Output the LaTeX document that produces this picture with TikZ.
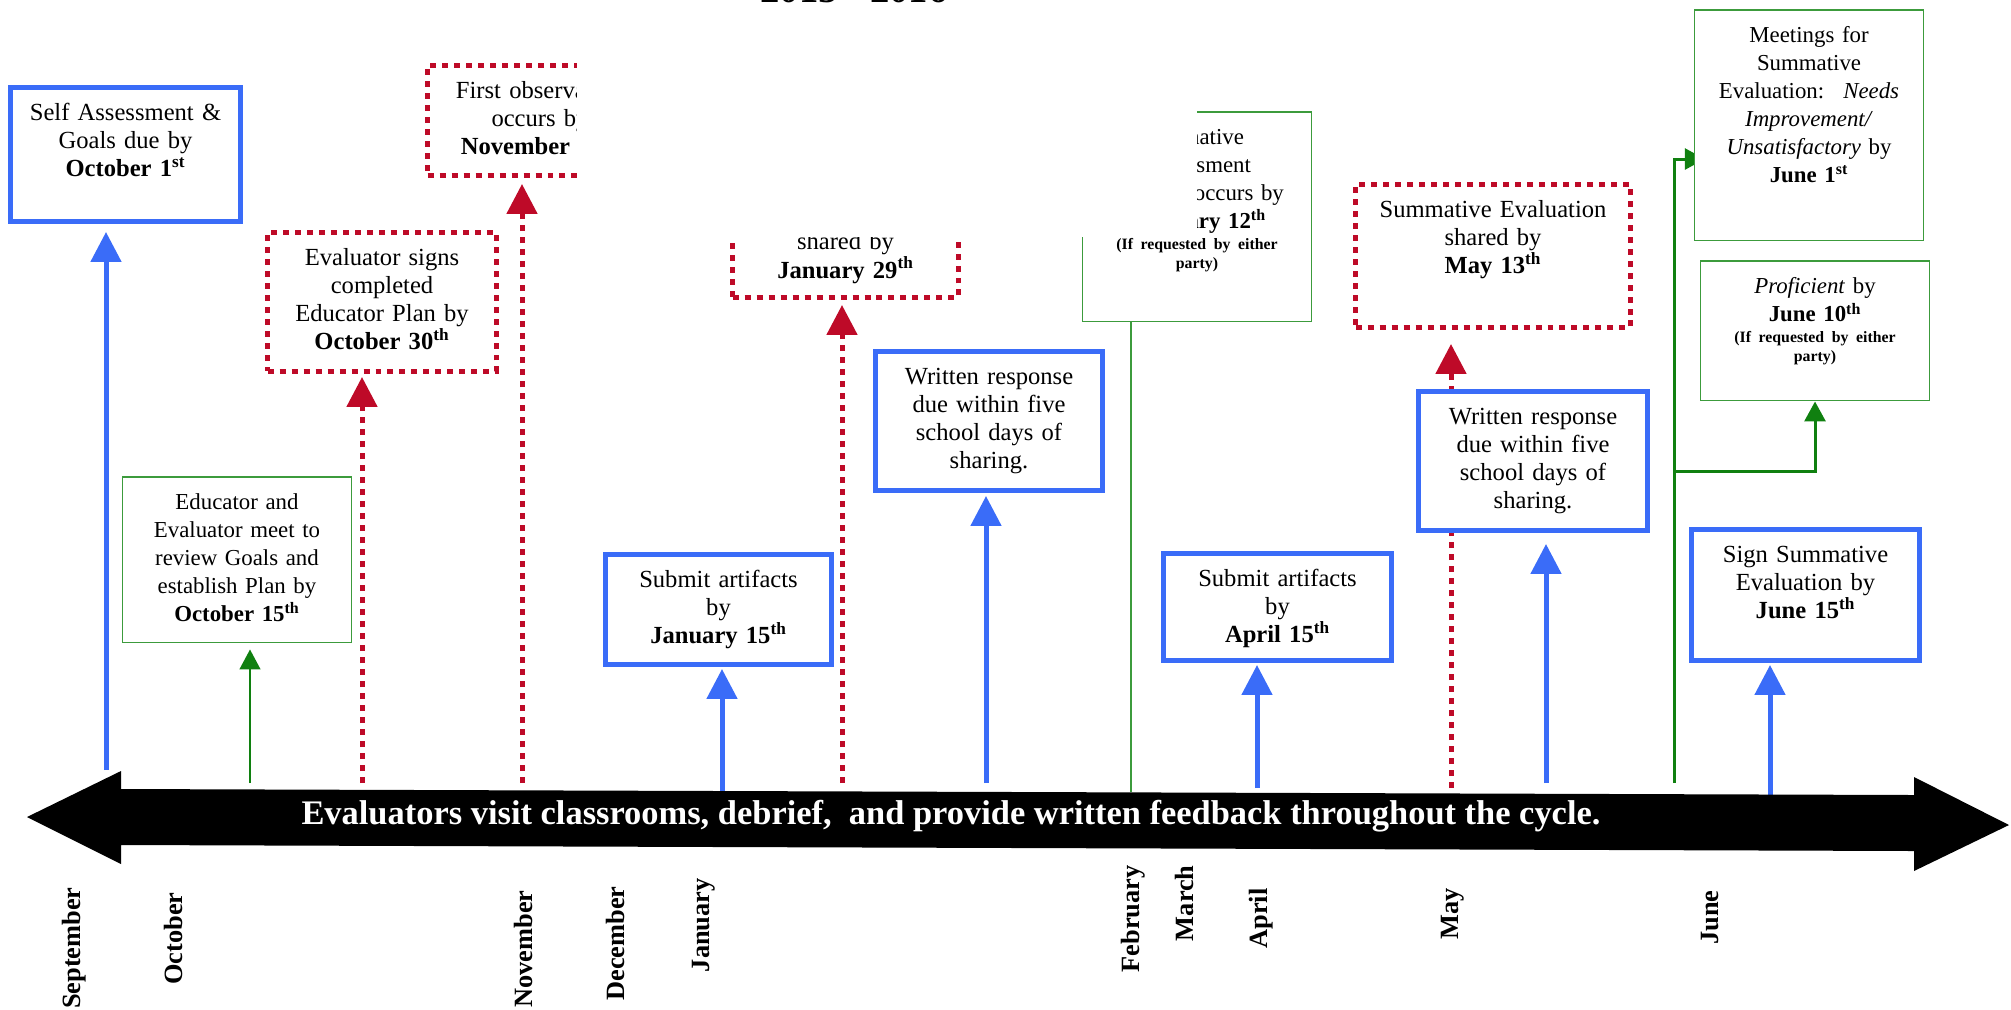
\documentclass[tikz,border=0pt]{standalone}
\usepackage{fontspec}
\setmainfont{Liberation Serif}
\usepackage{tikz}
\usetikzlibrary{arrows.meta,backgrounds}

\definecolor{evalblue}{RGB}{58,108,248}
\definecolor{evalred}{RGB}{190,10,40}
\definecolor{evalgreen}{RGB}{16,128,16}
\definecolor{boxgreen}{RGB}{60,155,60}

\newcommand{\boxfont}{\fontsize{14}{16}\selectfont}
\newcommand{\greenfont}{\fontsize{13}{15.9}\selectfont}
\newcommand{\notefont}{\bfseries\fontsize{9}{11}\selectfont}
\newcommand{\monthfont}{\bfseries\fontsize{15}{17}\selectfont}
\newcommand{\bannerfont}{\bfseries\fontsize{19.6}{22}\selectfont}
\newcommand{\titlefont}{\bfseries\fontsize{22}{26}\selectfont}
\newcommand{\eithernote}{\\[-4pt]{\notefont\begin{tabular}[t]{@{}c@{}}(If requested by either\\ party)\end{tabular}}}

\begin{document}
\begin{tikzpicture}[x=0.02cm,y=-0.02cm]
	\tikzstyle{plainbox}=[align=center,anchor=north,fill=white,inner xsep=0pt,inner ysep=0pt,
		text width=4.3cm,text height=0.66cm]
	\tikzstyle{bluebox}=[plainbox,draw=evalblue,line width=0.1cm,font=\boxfont]
	\tikzstyle{redbox}=[plainbox,draw=evalred,line width=0.1cm,dash pattern=on 0.12cm off 0.12cm,font=\boxfont]
	\tikzstyle{greenbox}=[plainbox,draw=boxgreen,line width=0.03cm,font=\greenfont]
	\tikzstyle{bluearrow}=[->,>={Triangle[length=0.6cm,width=0.6cm]},draw=evalblue,line width=0.1cm]
	\tikzstyle{redarrow}=[->,>={Triangle[length=0.6cm,width=0.6cm]},draw=evalred,line width=0.1cm,
		dash pattern=on 0.12cm off 0.12cm]
	\tikzstyle{greenarrow}=[->,>={Triangle[length=0.4cm,width=0.42cm]},draw=evalgreen,line width=0.06cm]
	\tikzstyle{monthlabel}=[rotate=90,anchor=east,inner sep=0pt,font=\monthfont]

	\useasboundingbox (0,0) rectangle (2011,1009);

	% blue boxes
	\node[bluebox,minimum width=4.6cm,text depth=2.02cm] (selfA) at (125.5,85)
		{Self Assessment \&\\ Goals due by\\ \textbf{October 1\textsuperscript{st}}};
	\node[bluebox,minimum width=4.52cm,text depth=1.54cm] (artJan) at (718.5,552)
		{Submit artifacts\\ by\\ \textbf{January 15\textsuperscript{th}}};
	\node[bluebox,minimum width=4.54cm,text depth=2.12cm] (respA) at (989,349)
		{Written response\\ due within five\\ school days of\\ sharing.};
	\node[bluebox,minimum width=4.56cm,text depth=1.48cm] (artApr) at (1277.5,551)
		{Submit artifacts\\ by\\ \textbf{April 15\textsuperscript{th}}};
	\node[bluebox,minimum width=4.58cm,text depth=2.12cm] (respB) at (1533,389)
		{Written response\\ due within five\\ school days of\\ sharing.};
	\node[bluebox,minimum width=4.56cm,text depth=1.96cm] (signJun) at (1805.5,527)
		{Sign Summative\\ Evaluation by\\ \textbf{June 15\textsuperscript{th}}};

	% red boxes
	\node[redbox,minimum width=4.5cm,text depth=1.54cm] (obsNov) at (540,63)
		{First observation\\ occurs by\\ \textbf{November 15\textsuperscript{th}}};
	\node[redbox,minimum width=4.58cm,text depth=2.12cm] (signOct) at (382,230)
		{Evaluator signs\\ completed\\ Educator Plan by\\ \textbf{October 30\textsuperscript{th}}};
	\node[redbox,minimum width=4.52cm,text height=1.79cm,text depth=0.95cm] (sharedJan) at (845.5,158)
		{shared by\\ \textbf{January 29\textsuperscript{th}}};
	\node[redbox,minimum width=5.5cm,text width=5.2cm,text depth=2.2cm] (mayShared) at (1493,182)
		{Summative Evaluation\\ shared by\\ \textbf{May 13\textsuperscript{th}}};

	% green boxes
	\node[greenbox,minimum width=4.58cm,text depth=2.66cm] (meetOct) at (237,476)
		{Educator and\\ Evaluator meet to\\ review Goals and\\ establish Plan by\\ \textbf{October 15\textsuperscript{th}}};
	\node[greenbox,minimum width=4.58cm,text depth=3.54cm] (formFeb) at (1197,111)
		{Formative\\ Assessment\\ Meeting occurs by\\ \textbf{February 12\textsuperscript{th}}\eithernote};
	\node[greenbox,minimum width=4.58cm,text depth=3.96cm] (meetJun) at (1809,9)
		{Meetings for\\ Summative\\ Evaluation:~ \textit{Needs}\\ \textit{Improvement/}\\
		\textit{Unsatisfactory} by\\ \textbf{June 1\textsuperscript{st}}};
	\node[greenbox,minimum width=4.58cm,text depth=2.14cm] (profJun) at (1815,260)
		{\textit{Proficient} by\\ \textbf{June 10\textsuperscript{th}}\eithernote};

	% feet of the connectors on the time line
	\coordinate (footA) at (106,770);
	\coordinate (footMeetOct) at (250,783);
	\coordinate (footSignOct) at (362,783);
	\coordinate (footObsNov) at (522,783);
	\coordinate (footArtJan) at (722,798);
	\coordinate (footSharedJan) at (842,783);
	\coordinate (footRespA) at (986,783);
	\coordinate (footFeb) at (1131,792);
	\coordinate (footArtApr) at (1257,788);
	\coordinate (footMay) at (1451,788);
	\coordinate (footRespB) at (1546,783);
	\coordinate (footJune) at (1674,783);
	\coordinate (trunkTop) at (1674,159);
	\coordinate (trunkMid) at (1674,471);
	\coordinate (footSignJun) at (1770,795);

	\begin{pgfonlayer}{background}
		\draw[bluearrow,shorten >=0.16cm] (footA) -- (footA |- selfA.south);
		\draw[bluearrow,shorten >=0.04cm] (footArtJan) -- (footArtJan |- artJan.south);
		\draw[bluearrow,shorten >=0.06cm] (footRespA) -- (footRespA |- respA.south);
		\draw[bluearrow,shorten >=0.04cm] (footArtApr) -- (footArtApr |- artApr.south);
		\draw[bluearrow,shorten >=0.22cm] (footRespB) -- (footRespB |- respB.south);
		\draw[bluearrow,shorten >=0.04cm] (footSignJun) -- (footSignJun |- signJun.south);

		\draw[redarrow,shorten >=0.06cm] (footSignOct) -- (footSignOct |- signOct.south);
		\draw[redarrow,shorten >=0.12cm] (footObsNov) -- (footObsNov |- obsNov.south);
		\draw[redarrow,shorten >=0.1cm] (footSharedJan) -- (footSharedJan |- sharedJan.south);
		\draw[redarrow,shorten >=0.28cm] (footMay) -- (footMay |- mayShared.south);

		\draw[greenarrow,line width=0.03cm,shorten >=0.12cm] (footMeetOct) -- (footMeetOct |- meetOct.south);
		\draw[draw=boxgreen,line width=0.03cm] (footFeb) -- (footFeb |- formFeb.south);
		\draw[greenarrow,shorten >=-0.22cm] (footJune) -- (trunkTop) -- (trunkTop -| meetJun.west);
		\draw[greenarrow] (trunkMid) -| (profJun.south);
	\end{pgfonlayer}

	% title box laid over the top
	\fill[white] (577,-20) rectangle (1197,237);
	\node[font=\titlefont,anchor=base,inner sep=0pt] (title) at (854,2.5) {2015 - 2016};

	% time line
	\fill[black] (27,817) -- (121,771) -- (121,789) -- (1914,795) -- (1914,777) -- (2009,825)
		-- (1914,871) -- (1914,851) -- (121,845) -- (121,864) -- cycle;
	\node[text=white,font=\bannerfont,anchor=base,inner sep=0pt] (cycle) at (951,824)
		{Evaluators visit classrooms, debrief,~ and provide written feedback throughout the cycle.};

	% months
	\node[monthlabel] (sep) at (74,887) {September};
	\node[monthlabel] (oct) at (173,892) {October};
	\node[monthlabel] (nov) at (523,890) {November};
	\node[monthlabel] (dec) at (615,886) {December};
	\node[monthlabel] (jan) at (704,878) {January};
	\node[monthlabel] (feb) at (1133,865) {February};
	\node[monthlabel] (mar) at (1184,865) {March};
	\node[monthlabel] (apr) at (1261,888) {April};
	\node[monthlabel] (may) at (1453,888) {May};
	\node[monthlabel] (jun) at (1710,890) {June};
\end{tikzpicture}
\end{document}
